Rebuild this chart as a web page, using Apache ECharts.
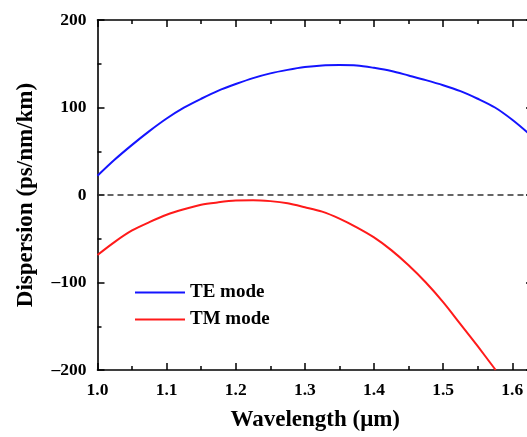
<!DOCTYPE html>
<html>
<head>
<meta charset="utf-8">
<script src="https://cdn.jsdelivr.net/npm/echarts@6/dist/echarts.min.js"></script>
<style>
  html, body { margin: 0; padding: 0; background: #fff; overflow: hidden; }
  /* the frame's right edge sits just past the visible area */
  #chart { width: 533px; height: 437px; }
</style>
</head>
<body>
<div id="chart"></div>
<script>
// Wavelength samples (µm) and dispersion values (ps/nm/km)
const wavelengthTE = [1.000, 1.025, 1.050, 1.075, 1.100, 1.125, 1.150, 1.175, 1.200, 1.225, 1.250, 1.275, 1.300,
                      1.325, 1.350, 1.375, 1.400, 1.425, 1.450, 1.475, 1.500, 1.525, 1.550, 1.575, 1.600, 1.625];
const dispersionTE = [22, 40.5, 57.3, 73, 87.4, 99.8, 110, 119.3, 126.8, 133.6, 139, 143, 146.2,
                      148.1, 148.5, 148, 145.3, 141.8, 136.6, 131.3, 125.5, 118.7, 110, 100, 86, 69.5];

const wavelengthTM = [1.000, 1.025, 1.050, 1.075, 1.100, 1.125, 1.150, 1.175, 1.200, 1.225, 1.250, 1.275, 1.300,
                      1.325, 1.350, 1.375, 1.400, 1.425, 1.450, 1.475, 1.500, 1.525, 1.550, 1.576];
const dispersionTM = [-68.5, -53.5, -40.5, -31, -22.6, -16.3, -11.1, -8.4, -6.4, -5.9, -7, -9.5, -14,
                      -19, -27, -37, -48.5, -63, -80.3, -100, -122.4, -147.5, -172.8, -200];

const seriesNames = ['TE mode', 'TM mode'];
const xTicks = { min: 1.0, max: 1.63, step: 0.1 };
const yTicks = { min: -200, max: 200, step: 100 };

const FONT = 'Liberation Serif';

function pairs(xs, ys) {
  return xs.map((x, i) => [x, ys[i]]);
}

const frameAxis = {
  axisLine: { show: true, onZero: false, lineStyle: { color: '#000', width: 1.6 } },
  axisTick: { show: true, inside: true, length: 7, lineStyle: { color: '#000', width: 1.5 } },
  minorTick: { show: true, splitNumber: 2, length: 4, lineStyle: { color: '#000', width: 1.5 } },
  splitLine: { show: false },
  minorSplitLine: { show: false }
};

const chart = echarts.init(document.getElementById('chart'), null, { renderer: 'canvas' });

chart.setOption({
  animation: false,
  backgroundColor: '#fff',
  grid: { left: 97.5, top: 20, right: 0, bottom: 65.3, containLabel: false },
  legend: {
    orient: 'vertical',
    left: 135,
    top: 283,
    padding: 0,
    icon: 'rect',
    itemWidth: 50,
    itemHeight: 2,
    itemGap: 8,
    data: seriesNames,
    textStyle: { fontFamily: FONT, fontWeight: 'bold', fontSize: 19, color: '#000' }
  },
  xAxis: [
    Object.assign({
      type: 'value', position: 'bottom',
      min: xTicks.min, max: xTicks.max, interval: xTicks.step,
      name: 'Wavelength (\u03bcm)', nameLocation: 'middle', nameGap: 39,
      nameTextStyle: { fontFamily: FONT, fontWeight: 'bold', fontSize: 23, color: '#000' },
      axisLabel: {
        margin: 11, showMaxLabel: false,
        fontFamily: FONT, fontWeight: 'bold', fontSize: 17.5, color: '#000',
        formatter: v => v.toFixed(1)
      }
    }, frameAxis),
    Object.assign({
      type: 'value', position: 'top',
      min: xTicks.min, max: xTicks.max, interval: xTicks.step,
      axisLabel: { show: false }
    }, frameAxis)
  ],
  yAxis: [
    Object.assign({
      type: 'value', position: 'left',
      min: yTicks.min, max: yTicks.max, interval: yTicks.step,
      name: 'Dispersion (ps/nm/km)', nameLocation: 'middle', nameGap: 60,
      nameTextStyle: { fontFamily: FONT, fontWeight: 'bold', fontSize: 23, color: '#000' },
      axisLabel: {
        margin: 11,
        fontFamily: FONT, fontWeight: 'bold', fontSize: 17.5, color: '#000',
        formatter: v => (v < 0 ? '\u2013' + Math.abs(v) : String(v))
      }
    }, frameAxis),
    Object.assign({
      type: 'value', position: 'right',
      min: yTicks.min, max: yTicks.max, interval: yTicks.step,
      axisLabel: { show: false }
    }, frameAxis)
  ],
  series: [
    {
      name: seriesNames[0],
      type: 'line',
      data: pairs(wavelengthTE, dispersionTE),
      smooth: 0.3,
      symbol: 'none',
      clip: true,
      lineStyle: { color: '#1414ff', width: 2 },
      itemStyle: { color: '#1414ff' },
      markLine: {
        silent: true,
        symbol: 'none',
        label: { show: false },
        lineStyle: { color: '#333', width: 1.5, type: [6, 4] },
        data: [{ yAxis: 0 }]
      }
    },
    {
      name: seriesNames[1],
      type: 'line',
      data: pairs(wavelengthTM, dispersionTM),
      smooth: 0.3,
      symbol: 'none',
      clip: true,
      lineStyle: { color: '#ff1a1a', width: 2 },
      itemStyle: { color: '#ff1a1a' }
    }
  ]
});
</script>
</body>
</html>
